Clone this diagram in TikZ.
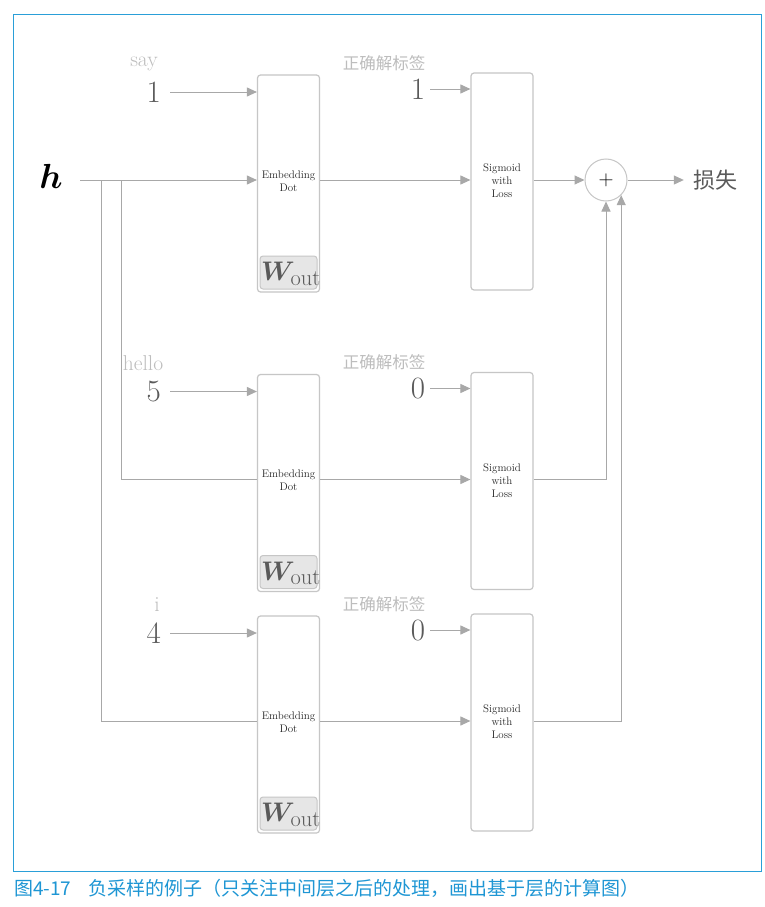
\documentclass[tikz,border=0pt]{standalone}
\usepackage{fontspec}
\usepackage{amsmath,bm}
\usetikzlibrary{arrows.meta}
\newfontfamily\cjk{Noto Sans CJK SC}
\definecolor{linegray}{HTML}{A8A8A8}
\definecolor{boxgray}{HTML}{C6C6C6}
\definecolor{labelgray}{HTML}{BDBDBD}
\definecolor{numgray}{HTML}{5A5A5A}
\definecolor{wfill}{HTML}{E6E6E6}
\definecolor{framecyan}{HTML}{2A9FD8}
\definecolor{captionblue}{HTML}{1E96D4}

\begin{document}
\begin{tikzpicture}[x=1pt,y=-1pt,
  conn/.style={draw=linegray, line width=1pt},
  arr/.style={conn, -{Triangle[length=10pt,width=9pt]}},
  layerbox/.style={draw=boxgray, line width=1.2pt, rounded corners=3pt,
    minimum width=62pt, minimum height=217pt, inner sep=0pt},
  layertext/.style={font=\fontsize{11}{13}\selectfont, align=center, text=black!85, inner sep=0pt},
  wordlabel/.style={text=labelgray, font=\fontsize{21.5}{21.5}\selectfont, inner sep=0pt},
  idnum/.style={text=numgray, font=\fontsize{31}{31}\selectfont, inner sep=0pt},
  tagtext/.style={text=labelgray, font=\cjk\fontsize{16.5}{17}\selectfont, inner sep=0pt},
  wbox/.style={draw=boxgray, fill=wfill, line width=1pt, rounded corners=3pt,
    minimum width=57pt, minimum height=33pt, inner sep=0pt},
  wtext/.style={text=numgray, font=\fontsize{24.88}{25}\selectfont, inner sep=0pt, scale=1.08}
]
\useasboundingbox (0,0) rectangle (764,907);
\fill[white] (0,0) rectangle (764,907);
\draw[framecyan, line width=1pt] (13.5,14.5) rectangle (761,871);

% three rows: one positive sample, two negative samples
\foreach \r/\d/\wx/\w/\id/\t in {1/0/144/say/1/1, 2/299.5/143/hello/5/0, 3/541/157/i/4/0}{
  \coordinate (m\r) at (0,180+\d);
  \node[layerbox] (e\r) at (288.5,183.5+\d) {};
  \node[layertext] (et\r) at (288.5,181+\d) {Embedding\\Dot};
  \node[wbox] (w\r) at (288.5,272.5+\d) {};
  \node[wtext] (wt\r) at (291,274+\d) {$\bm{W}_{\mathrm{out}}$};
  \node[layerbox] (s\r) at (502,181.5+\d) {};
  \node[layertext] (st\r) at (502,181+\d) {Sigmoid\\with\\Loss};
  \node[wordlabel] (word\r) at (\wx,64+\d) {\w};
  \node[idnum, anchor=east] (id\r) at (161,92+\d) {\id};
  \draw[arr] ([xshift=9pt]id\r.east) -- (e\r.west |- id\r);
  \node[tagtext] (tag\r) at (384,63+\d) {正确解标签};
  \node[idnum] (t\r) at (418,89+\d) {\t};
  \draw[arr] ([xshift=5pt]t\r.east) -- (s\r.west |- t\r);
  \draw[arr] (e\r.east |- m\r) -- (s\r.west |- m\r);
}

% hidden vector h fanned out to the three rows
\node[font=\fontsize{24.88}{25}\selectfont, inner sep=0pt, scale=1.4] (h) at (51,176) {$\bm{h}$};
\coordinate (hs) at (80,180);
\coordinate (b1) at (101,180);
\coordinate (b2) at (121,180);
\draw[arr] (hs) -- (e1.west |- m1);
\draw[conn] (b1) |- (e3.west |- m3);
\draw[conn] (b2) |- (e2.west |- m2);

% sum of the losses
\node[circle, draw=boxgray, line width=1pt, minimum size=42pt, inner sep=0pt,
  font=\fontsize{20}{20}\selectfont] (plus) at (606,180) {$+$};
\draw[arr] (s1.east |- m1) -- (plus.west);
\draw[arr] (s2.east |- m2) -| (plus.south);
\draw[arr] (s3.east |- m3) -| (plus.-45);
\node[text=numgray, font=\cjk\fontsize{22}{22}\selectfont, inner sep=0pt] (loss) at (715,180) {损失};
\draw[arr] (plus.east) -- ([xshift=-9pt]loss.west);

% caption
\node[anchor=west, text=captionblue, font=\cjk\fontsize{19}{19}\selectfont, inner sep=0pt]
  (cap) at (14,888) {图4-17\hspace{0.9em}负采样的例子（只关注中间层之后的处理，画出基于层的计算图）};
\end{tikzpicture}
\end{document}
